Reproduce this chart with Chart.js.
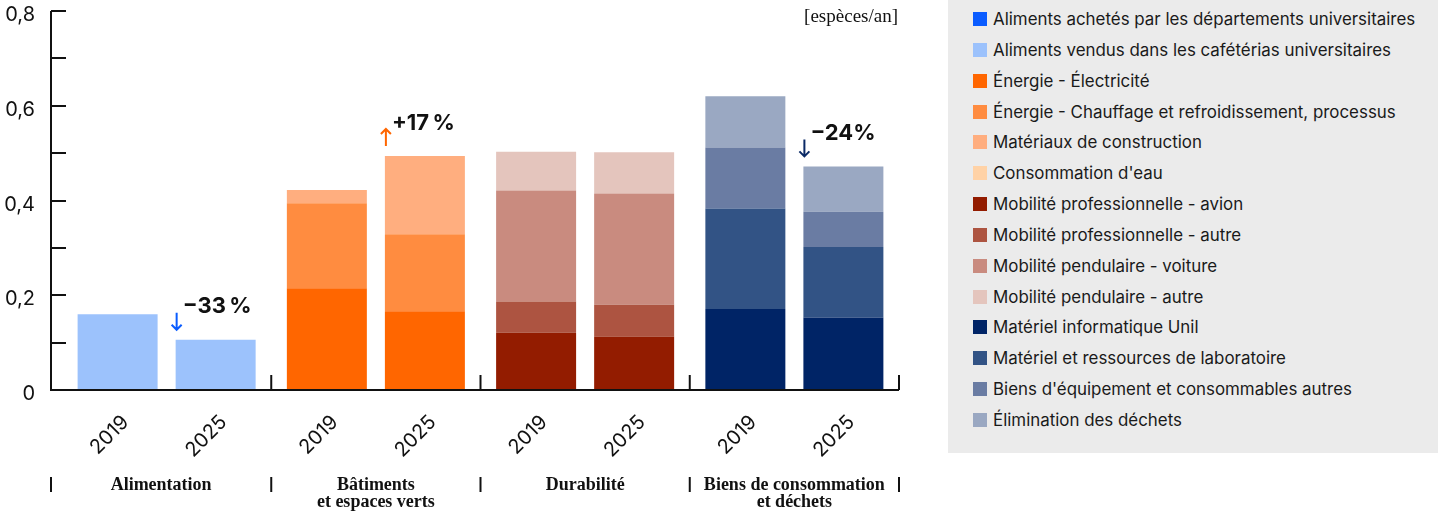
<!DOCTYPE html>
<html lang="fr">
<head>
<meta charset="utf-8">
<script src="https://cdn.jsdelivr.net/npm/chart.js@4.4.1/dist/chart.umd.min.js"></script>
<style>
  html, body { margin: 0; padding: 0; background: #fff; }
  #wrap { position: relative; width: 1438px; height: 516px; }
  #chartBox { position: absolute; left: 0; top: 0; width: 940px; height: 516px; }
  #legend {
    position: absolute; left: 948px; top: 0; width: 490px; height: 453px;
    background: #ebebeb; box-sizing: border-box; padding: 4px 0 0 25px;
    font-family: Inter, "Noto Sans", sans-serif; font-size: 16.9px; color: #1a1a1a;
  }
  .item { height: 30.85px; line-height: 30.85px; white-space: nowrap; }
  .sw { display: inline-block; width: 14px; height: 14px; margin-right: 6px; vertical-align: -1px; }
</style>
</head>
<body>
<div id="wrap">
  <div id="chartBox"><canvas id="speciesChart" width="940" height="516"></canvas></div>
  <div id="legend"></div>
</div>
<script>
// categories
var groups = [['Alimentation'], ['Bâtiments', 'et espaces verts'], ['Durabilité'], ['Biens de consommation', 'et déchets']];
var years = ['2019', '2025'];

// series (legend order), group each belongs to, colours
var series = [
    'Aliments achetés par les départements universitaires',
    'Aliments vendus dans les cafétérias universitaires',
    'Énergie - Électricité',
    'Énergie - Chauffage et refroidissement, processus',
    'Matériaux de construction',
    "Consommation d'eau",
    'Mobilité professionnelle - avion',
    'Mobilité professionnelle - autre',
    'Mobilité pendulaire - voiture',
    'Mobilité pendulaire - autre',
    'Matériel informatique Unil',
    'Matériel et ressources de laboratoire',
    "Biens d'équipement et consommables autres",
    'Élimination des déchets'
];
var seriesGroup = [0, 0, 1, 1, 1, 1, 2, 2, 2, 2, 3, 3, 3, 3];
var colors = ['#0a5cff', '#9cc2fc', '#ff6600', '#ff8c40', '#ffae7f', '#ffd2a6',
    '#931c00', '#ad5441', '#c98b7f', '#e4c5bd', '#002466', '#325385', '#6a7ca3', '#9aa8c2'];

// values [espèces/an]
var values2019 = [0, 0.160, 0.215, 0.179, 0.028, 0, 0.121, 0.066, 0.234, 0.082, 0.171, 0.212, 0.129, 0.108];
var values2025 = [0, 0.106, 0.166, 0.163, 0.165, 0, 0.113, 0.067, 0.235, 0.087, 0.153, 0.149, 0.074, 0.096];

// change labels per group
var changeLabels = ['\u221233\u202f%', '+17\u202f%', null, '\u221224%'];
var changeColors = ['#0a5cff', '#ff6600', null, '#0b2a66'];

var yMin = 0, yMax = 0.8, yStep = 0.1;

/****************************** legend ******************************/
function buildLegend() {
    var box = document.getElementById('legend');
    series.forEach(function (name, i) {
        var row = document.createElement('div');
        row.className = 'item';
        row.innerHTML = '<span class="sw" style="background:' + colors[i] + '"></span>' + name;
        box.appendChild(row);
    });
}

/****************************** decorations ******************************/
var decor = {
    id: 'decor',
    afterDraw: function (chart) {
        var ctx = chart.ctx;
        var xs = chart.scales.x, ys = chart.scales.y, area = chart.chartArea;
        var axisX = 51;
        var base = ys.getPixelForValue(0);
        ctx.save();
        ctx.strokeStyle = '#111';
        ctx.lineWidth = 2;

        // axes
        ctx.beginPath();
        ctx.moveTo(axisX, ys.getPixelForValue(yMax));
        ctx.lineTo(axisX, base);
        ctx.lineTo(area.right, base);
        ctx.stroke();

        // y ticks (inside)
        for (var v = yStep; v <= yMax + 1e-9; v += yStep) {
            var py = Math.round(ys.getPixelForValue(v));
            ctx.beginPath();
            ctx.moveTo(axisX, py);
            ctx.lineTo(axisX + 15, py);
            ctx.stroke();
        }

        // group boundaries
        var bounds = [axisX];
        for (var i = 0; i < groups.length - 1; i++) {
            bounds.push((xs.getPixelForValue(i) + xs.getPixelForValue(i + 1)) / 2);
        }
        bounds.push(area.right);
        for (var b = 1; b < bounds.length; b++) {
            ctx.beginPath();
            ctx.moveTo(bounds[b], base - 15);
            ctx.lineTo(bounds[b], base);
            ctx.stroke();
        }
        bounds.forEach(function (bx) {
            ctx.beginPath();
            ctx.moveTo(bx, 477);
            ctx.lineTo(bx, 492);
            ctx.stroke();
        });

        // group names
        ctx.fillStyle = '#111';
        ctx.font = 'bold 18px "Liberation Serif", serif';
        ctx.textAlign = 'center';
        ctx.textBaseline = 'middle';
        groups.forEach(function (lines, g) {
            var cx = (bounds[g] + bounds[g + 1]) / 2;
            lines.forEach(function (t, k) {
                ctx.fillText(t, cx, 485 + k * 17);
            });
        });

        // year labels, rotated
        ctx.font = '20px Inter, sans-serif';
        ctx.textAlign = 'right';
        groups.forEach(function (lines, g) {
            var s = seriesGroup.indexOf(g);
            years.forEach(function (yr, k) {
                var bar = chart.getDatasetMeta(s * 2 + k).data[g];
                ctx.save();
                ctx.translate(bar.x + 8, 419);
                ctx.rotate(-Math.PI / 4);
                ctx.fillText(yr, 0, 0);
                ctx.restore();
            });
        });

        // unit
        ctx.font = '19px "Liberation Serif", serif';
        ctx.textAlign = 'right';
        ctx.fillText('[espèces/an]', 898, 17);

        // change annotations on the 2025 bar
        groups.forEach(function (lines, g) {
            if (!changeLabels[g]) return;
            var total = 0;
            seriesGroup.forEach(function (sg, s) { if (sg === g) total += values2025[s]; });
            var top = ys.getPixelForValue(total);
            var s = seriesGroup.indexOf(g);
            var bar = chart.getDatasetMeta(s * 2 + 1).data[g];
            var left = bar.x - bar.width / 2;
            var ax = left + 1;
            var y1 = top - 27, y2 = top - 10;
            var up = changeLabels[g].charAt(0) === '+';
            ctx.strokeStyle = changeColors[g];
            ctx.lineWidth = 2;
            ctx.beginPath();
            ctx.moveTo(ax, y1);
            ctx.lineTo(ax, y2);
            if (up) {
                ctx.moveTo(ax - 5, y1 + 5); ctx.lineTo(ax, y1); ctx.lineTo(ax + 5, y1 + 5);
            } else {
                ctx.moveTo(ax - 5, y2 - 5); ctx.lineTo(ax, y2); ctx.lineTo(ax + 5, y2 - 5);
            }
            ctx.stroke();
            ctx.fillStyle = '#111';
            ctx.font = 'bold 22px Inter, sans-serif';
            ctx.textAlign = 'left';
            ctx.textBaseline = 'middle';
            ctx.fillText(changeLabels[g], ax + 6, top - 33);
        });
        ctx.restore();
    }
};

/****************************** chart ******************************/
function speciesCanvas() {
    var datasets = [];
    series.forEach(function (name, s) {
        [values2019, values2025].forEach(function (vals, k) {
            datasets.push({
                label: name + ' ' + years[k],
                stack: years[k],
                backgroundColor: colors[s],
                borderWidth: 0,
                categoryPercentage: 0.937,
                barPercentage: 0.816,
                data: groups.map(function (g, i) { return i === seriesGroup[s] ? vals[s] : null; })
            });
        });
    });

    var ctx = document.getElementById('speciesChart').getContext('2d');
    var chart = new Chart(ctx, {
        type: 'bar',
        data: {
            labels: groups.map(function (g) { return g.join(' '); }),
            datasets: datasets
        },
        options: {
            responsive: false,
            animation: false,
            layout: { padding: { top: 11, right: 41, bottom: 126, left: 0 } },
            plugins: { legend: { display: false }, tooltip: { enabled: false } },
            scales: {
                x: { display: false, stacked: true, offset: true },
                y: {
                    stacked: true,
                    min: yMin,
                    max: yMax,
                    afterFit: function (scale) {
                        scale.width = 62;
                        scale.paddingTop = 0;
                        scale.paddingBottom = 0;
                    },
                    grid: { display: false, drawTicks: false },
                    border: { display: false },
                    ticks: {
                        stepSize: yStep,
                        padding: 27,
                        labelOffset: 4,
                        color: '#111',
                        font: { family: 'Inter', size: 20 },
                        callback: function (v) {
                            var r = Math.round(v * 10);
                            if (r % 2) return '';
                            return r === 0 ? '0' : (r / 10).toFixed(1).replace('.', ',');
                        }
                    }
                }
            }
        },
        plugins: [decor]
    });
}

buildLegend();
speciesCanvas();
</script>
</body>
</html>
